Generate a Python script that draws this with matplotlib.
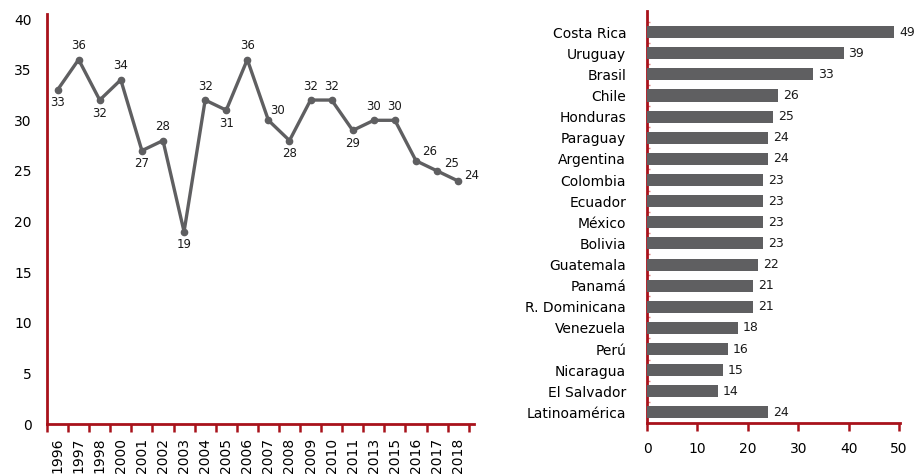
import numpy as np
import matplotlib
matplotlib.use("Agg")
import matplotlib.pyplot as plt


RED = "#a8121b"
GREY = "#5f5f61"

years = ["1996", "1997", "1998", "2000", "2001", "2002", "2003", "2004", "2005", "2006",
         "2007", "2008", "2009", "2010", "2011", "2013", "2015", "2016", "2017", "2018"]
trend = [33, 36, 32, 34, 27, 28, 19, 32, 31, 36, 30, 28, 32, 32, 29, 30, 30, 26, 25, 24]

countries = ["Costa Rica", "Uruguay", "Brasil", "Chile", "Honduras", "Paraguay", "Argentina",
             "Colombia", "Ecuador", "México", "Bolivia", "Guatemala", "Panamá", "R. Dominicana",
             "Venezuela", "Perú", "Nicaragua", "El Salvador", "Latinoamérica"]
scores = [49, 39, 33, 26, 25, 24, 24, 23, 23, 23, 23, 22, 21, 21, 18, 16, 15, 14, 24]

# where each point label sits relative to its marker (pixels)
label_offsets = {"a": (0, 14), "b": (0, -13)}
label_place = ["b", "a", "b", "a", "b", "a", "b", "a", "b", "a",
               (9, 10), "b", "a", "a", "b", "a", "a", (14, 9), (14, 7), (13, 6)]

plt.rcParams["font.family"] = "DejaVu Sans"
plt.rcParams["text.color"] = "#1a1a1a"

fig = plt.figure(figsize=(9.21, 4.74), dpi=100)

#######################################################################################################
# left: yearly line

ax1 = fig.add_axes([47 / 921, 50 / 474, 427 / 921, 410 / 474])
x = np.arange(len(years)) + 0.5
ax1.plot(x, trend, color=GREY, lw=2.4, marker="o", ms=4.5, zorder=3)

for xi, v, p in zip(x, trend, label_place):
    off = label_offsets[p] if isinstance(p, str) else p
    ax1.annotate(str(v), (xi, v), xytext=off, textcoords="offset pixels",
                 ha="center", va="center", fontsize=8.5)

ax1.set_xlim(0, 20.25)
ax1.set_ylim(0, 40.5)
ax1.set_yticks(range(0, 41, 5))
ax1.tick_params(axis="y", length=0, pad=11, labelsize=10)

ax1.set_xticks(np.arange(0, 21))
ax1.set_xticklabels([])
ax1.set_xticks(x, minor=True)
ax1.set_xticklabels(years, minor=True, rotation=90, fontsize=10, va="top")
ax1.tick_params(axis="x", which="major", direction="out", length=6, width=1.8, color=RED)
ax1.tick_params(axis="x", which="minor", length=0, pad=10)

for s in ["top", "right"]:
    ax1.spines[s].set_visible(False)
for s in ["left", "bottom"]:
    ax1.spines[s].set_color(RED)
    ax1.spines[s].set_linewidth(2)

#######################################################################################################
# right: country bars

ax2 = fig.add_axes([647 / 921, 51 / 474, 253 / 921, 412 / 474])
y = np.arange(len(countries))[::-1]
ax2.barh(y, scores, height=0.57, color=GREY, zorder=3)

for yi, v in zip(y, scores):
    ax2.annotate(str(v), (v, yi), xytext=(5, 0), textcoords="offset pixels",
                 ha="left", va="center", fontsize=9)

ax2.set_xlim(0, 50.2)
ax2.set_ylim(-0.48, 19.0)
ax2.set_xticks(range(0, 51, 10))
ax2.tick_params(axis="x", direction="out", length=6, width=1.8, color=RED, pad=8, labelsize=10)
ax2.set_yticks(y)
ax2.set_yticklabels(countries, fontsize=10)
ax2.tick_params(axis="y", length=0, pad=15)
ax2.set_yticks(np.arange(-0.5, 19, 1), minor=True)
ax2.tick_params(axis="y", which="minor", direction="in", length=2, width=1, color="#e08080")

for s in ["top", "right"]:
    ax2.spines[s].set_visible(False)
for s in ["left", "bottom"]:
    ax2.spines[s].set_color(RED)
    ax2.spines[s].set_linewidth(2)

fig.savefig("out.png", dpi=100)
